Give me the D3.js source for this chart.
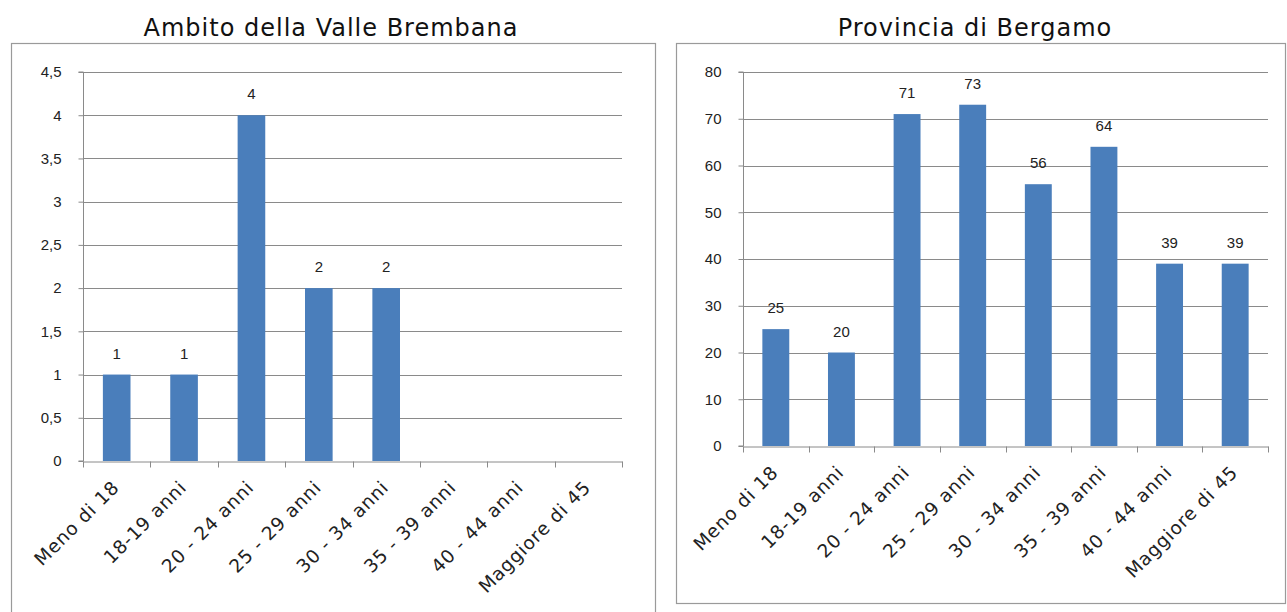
<!DOCTYPE html>
<html><head><meta charset="utf-8">
<script src="https://cdn.jsdelivr.net/npm/d3@7"></script>
<style>
html,body{margin:0;padding:0;background:#fff;}
svg{display:block;}
</style></head>
<body>
<svg id="c" width="1287" height="612"></svg>
<script>
const categories = ["Meno di 18","18-19 anni","20 - 24 anni","25 - 29 anni","30 - 34 anni","35 - 39 anni","40 - 44 anni","Maggiore di 45"];
const valleValues = [1,1,4,2,2,0,0,0];
const bergamoValues = [25,20,71,73,56,64,39,39];
const valleTicks = [0,0.5,1,1.5,2,2.5,3,3.5,4,4.5];
const bergamoTicks = [0,10,20,30,40,50,60,70,80];
const titles = ["Ambito della Valle Brembana","Provincia di Bergamo"];

const svg = d3.select("#c");
const catFont = "'DejaVu Sans',sans-serif";
const numFont = "'Liberation Sans',Arial,sans-serif";
const barColor = "#4a7ebb";
const gridColor = "#8a8a8a";

function panel(cfg){
  const g = svg.append("g");
  g.append("rect").attr("x",cfg.box[0]+0.5).attr("y",cfg.box[1]+0.5)
    .attr("width",cfg.box[2]).attr("height",cfg.box[3])
    .attr("fill","none").attr("stroke","#9a9a9a").attr("stroke-width",1.2);
  g.append("text").attr("x",cfg.titleX).attr("y",36).attr("text-anchor","middle")
    .style("font-family",catFont).style("font-size","24px").style("letter-spacing","1px").attr("fill","#111")
    .text(cfg.title);
  const x = d3.scaleBand().domain(categories).range([cfg.x0,cfg.x1]).paddingInner(0).paddingOuter(0);
  const y = d3.scaleLinear().domain([0,cfg.max]).range([cfg.y0,cfg.y1]);
  g.append("g").selectAll("line").data(cfg.ticks.filter(t=>t>0)).join("line")
    .attr("x1",cfg.x0).attr("x2",cfg.x1)
    .attr("y1",d=>Math.round(y(d))+0.5).attr("y2",d=>Math.round(y(d))+0.5)
    .attr("stroke",gridColor).attr("stroke-width",1);
  const ya = g.append("g").attr("transform",`translate(${cfg.x0+0.5},0)`)
    .call(d3.axisLeft(y).tickValues(cfg.ticks).tickSize(5).tickFormat(d=>String(d).replace(".",",")));
  ya.select(".domain").attr("stroke",gridColor).attr("d",`M-5,${y(cfg.max)}H0V${y(0)}H-5`);
  ya.selectAll(".tick line").attr("stroke",gridColor);
  ya.selectAll(".tick text").style("font-family",numFont).style("font-size","15px").attr("fill","#222").attr("x",-22);
  const bw = x.bandwidth()*0.41;
  g.append("g").selectAll("rect").data(cfg.values).join("rect")
    .attr("x",(d,i)=>x(categories[i])+x.bandwidth()/2-bw/2)
    .attr("y",d=>y(d)).attr("width",bw).attr("height",d=>y(0)-y(d))
    .attr("fill",barColor);
  g.append("g").selectAll("text").data(cfg.values.map((v,i)=>({v,i})).filter(d=>d.v>0)).join("text")
    .attr("x",d=>x(categories[d.i])+x.bandwidth()/2)
    .attr("y",d=>y(d.v)-16).attr("text-anchor","middle")
    .style("font-family",numFont).style("font-size","15px").attr("fill","#222")
    .text(d=>d.v);
  const xa = g.append("g").attr("transform",`translate(0,${Math.round(y(0))+0.5})`)
    .call(d3.axisBottom(x).tickSize(0).tickFormat(""));
  xa.select(".domain").attr("stroke",gridColor);
  const bounds = d3.range(categories.length+1).map(i=>cfg.x0+i*x.bandwidth());
  xa.selectAll("line.bt").data(bounds).join("line").attr("class","bt")
    .attr("x1",d=>Math.round(d)+0.5).attr("x2",d=>Math.round(d)+0.5).attr("y1",0).attr("y2",6)
    .attr("stroke",gridColor);
  g.append("g").selectAll("text").data(categories).join("text")
    .attr("transform",d=>`translate(${x(d)+x.bandwidth()/2-1},${y(0)+23}) rotate(-45)`)
    .attr("text-anchor","end").attr("dy","0.35em")
    .style("font-family",catFont).style("font-size","18.5px").style("letter-spacing","0.8px").attr("fill","#222")
    .text(d=>d);
}

panel({box:[11,43,644,575],title:titles[0],titleX:331,x0:83,x1:622,y0:461,y1:72,max:4.5,ticks:valleTicks,values:valleValues});
panel({box:[676,43,609,560],title:titles[1],titleX:975,x0:743,x1:1268,y0:446,y1:72,max:80,ticks:bergamoTicks,values:bergamoValues});
</script>
</body></html>
